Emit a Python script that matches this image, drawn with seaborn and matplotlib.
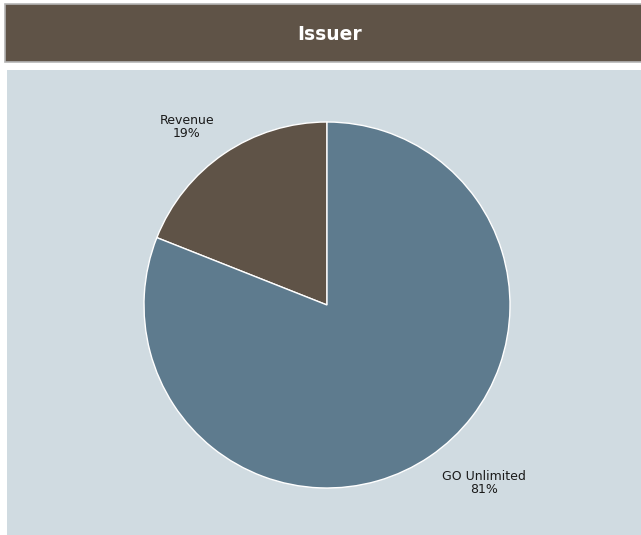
import matplotlib
matplotlib.use("Agg")
import matplotlib.pyplot as plt
import seaborn as sns
from matplotlib.patches import Rectangle

sns.set_theme(style="white")
plt.rcParams["font.family"] = ["DejaVu Sans"]

# Issuer breakdown (percent)
categories = ["Revenue", "GO Unlimited"]
shares = [19, 81]
colors = ["#5f5347", "#5e7b8e"]

W, H = 641, 535
fig = plt.figure(figsize=(W / 100, H / 100), dpi=100)
fig.patch.set_facecolor("white")

def px_rect(x0, y0, x1, y1, **kw):
    # rectangle given in pixel coordinates measured from the top-left corner
    r = Rectangle((x0 / W, 1 - y1 / H), (x1 - x0) / W, (y1 - y0) / H,
                  transform=fig.transFigure, zorder=-5, **kw)
    fig.patches.append(r)

# header bar and chart panel
px_rect(5, 4, 645, 62, facecolor="#5f5347", edgecolor="#b5b5b5", linewidth=1.2)
px_rect(7, 70, 645, 540, facecolor="#d0dbe1", edgecolor="none")
fig.text(330 / W, 1 - 34 / H, "Issuer", color="white", fontsize=13.5,
         fontweight="bold", ha="center", va="center")

# square axes whose center sits on the pie center, radius ~183 px
S = 460
cx, cy, R = 327, 305, 183
ax = fig.add_axes([(cx - S / 2) / W, 1 - (cy + S / 2) / H, S / W, S / H])
ax.set_facecolor("none")
ax.set_zorder(2)
lim = S / (2 * R)
wedges, _ = ax.pie(shares, colors=colors, startangle=90, counterclock=True,
                   wedgeprops=dict(edgecolor="white", linewidth=1.0))
ax.set_xlim(-lim, lim)
ax.set_ylim(-lim, lim)
ax.set_aspect("equal")
ax.axis("off")

# label positions in pie-radius units
label_pos = [(-0.765, 0.97), (0.858, -0.97)]
for name, val, (lx, ly) in zip(categories, shares, label_pos):
    ax.text(lx, ly, f"{name}\n{val}%", ha="center", va="center",
            fontsize=9, color="#1a1a1a", linespacing=1.0)

fig.savefig("out.png", dpi=100)
